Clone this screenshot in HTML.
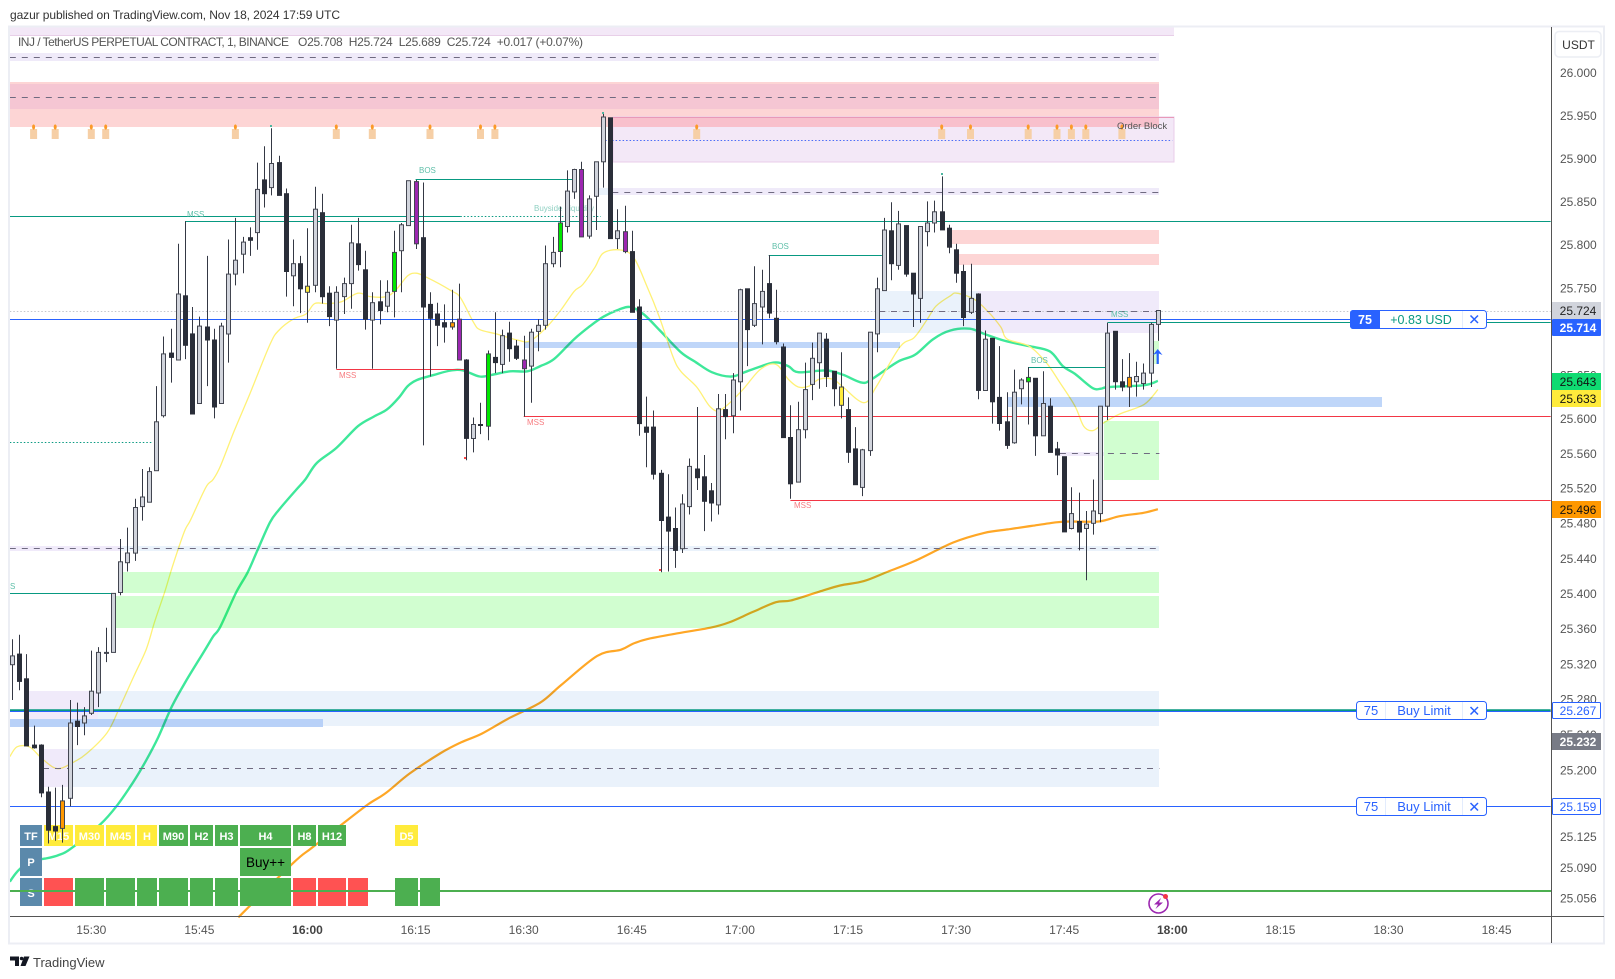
<!DOCTYPE html>
<html lang="en">
<head>
<meta charset="utf-8">
<title>INJ / TetherUS Perpetual Contract chart</title>
<style>
html,body{margin:0;padding:0;background:#fff;width:1615px;height:979px;overflow:hidden}
svg{display:block;font-family:"Liberation Sans",sans-serif}
text{font-family:"Liberation Sans",sans-serif}
</style>
</head>
<body>
<svg id="chart" xmlns="http://www.w3.org/2000/svg" width="1615" height="979" viewBox="0 0 1615 979">
  <rect x="0" y="0" width="1615" height="979" fill="#ffffff"/>
  <text x="10" y="19" font-size="12" fill="#333" textLength="330" lengthAdjust="spacing">gazur published on TradingView.com, Nov 18, 2024 17:59 UTC</text>
  <g id="ma-layer"></g>
  <g style="mix-blend-mode:multiply">
    <rect x="10" y="27" width="1164" height="9" fill="#f3e8f7"/>
    <rect x="10" y="35" width="1164" height="1" fill="#e8cfe8"/>
    <rect x="10" y="53" width="1149" height="8" fill="#efeaf9"/>
    <rect x="10" y="82" width="1149" height="45" fill="#fdd5d5"/>
    <rect x="10" y="84" width="1149" height="25" fill="#f5c6d3"/>
    <rect x="613" y="117" width="561" height="45" fill="#f3e8f7" stroke="#e9cdea" stroke-width="1"/>
    <rect x="613" y="118" width="546" height="9" fill="#f8c0cc"/>
    <rect x="598" y="188" width="14" height="7" fill="#eaf2fb"/>
    <rect x="612" y="188" width="547" height="7" fill="#efeaf9"/>
    <rect x="952" y="230" width="207" height="14" fill="#fdd5d5"/>
    <rect x="959" y="254" width="200" height="11" fill="#fdd5d5"/>
    <rect x="879" y="291" width="99" height="42" fill="#eaf2fb"/>
    <rect x="978" y="291" width="181" height="42" fill="#f0eafa"/>
    <rect x="524" y="342" width="376" height="6" fill="#bfd6f9"/>
    <rect x="1007" y="397" width="375" height="10" fill="#bfd6f9"/>
    <rect x="1153" y="341" width="6" height="23" fill="#d1fed0"/>
    <rect x="1104" y="421" width="55" height="59" fill="#d1fed0"/>
    <rect x="1060" y="452" width="44" height="4" fill="#f0eafa"/>
    <rect x="10" y="546" width="110" height="5" fill="#f0eafa"/>
    <rect x="120" y="546" width="1039" height="5" fill="#eaf2fb"/>
    <rect x="123" y="572" width="1036" height="21" fill="#d1fed0"/>
    <rect x="115" y="596" width="1044" height="32" fill="#d1fed0"/>
    <rect x="29" y="691" width="69" height="35" fill="#f0eafa"/>
    <rect x="98" y="691" width="1061" height="35" fill="#eaf2fb"/>
    <rect x="10" y="719" width="313" height="8" fill="#b8d1f8"/>
    <rect x="43" y="749" width="26" height="38" fill="#f0eafa"/>
    <rect x="69" y="749" width="1090" height="38" fill="#eaf2fb"/>
  </g>
  <line x1="613" y1="117.5" x2="1174" y2="117.5" stroke="#e899b8" stroke-width="1"/>
  <g id="level-layer"></g>
  <g id="flame-layer"></g>

  <g font-size="8">
    <text x="187" y="217" fill="#5fbfa9">MSS</text>
    <text x="419" y="173" fill="#5fbfa9">BOS</text>
    <text x="534" y="211" fill="#8fd0c2">Buyside Liquidity</text>
    <text x="772" y="249" fill="#5fbfa9">BOS</text>
    <text x="1111" y="317" fill="#5fbfa9">MSS</text>
    <text x="1031" y="363" fill="#5fbfa9">BOS</text>
    <text x="339" y="378" fill="#f77c80">MSS</text>
    <text x="527" y="425" fill="#f77c80">MSS</text>
    <text x="794" y="508" fill="#f77c80">MSS</text>
    <text x="10" y="589" fill="#5fbfa9">S</text>
    <text x="1117" y="129" font-size="9.5" fill="#555">Order Block</text>
  </g>

  <g font-size="11" font-weight="bold" text-anchor="middle" fill="#fff">
    <rect x="20" y="825" width="22" height="21" fill="#5b89ab"/>
    <text x="31" y="840">TF</text>
    <rect x="44" y="825" width="29" height="21" fill="#ffeb3b"/>
    <text x="58.5" y="840">M15</text>
    <rect x="75" y="825" width="29" height="21" fill="#ffeb3b"/>
    <text x="89.5" y="840">M30</text>
    <rect x="106" y="825" width="29" height="21" fill="#ffeb3b"/>
    <text x="120.5" y="840">M45</text>
    <rect x="137" y="825" width="20" height="21" fill="#ffeb3b"/>
    <text x="147" y="840">H</text>
    <rect x="159" y="825" width="29" height="21" fill="#4caf50"/>
    <text x="173.5" y="840">M90</text>
    <rect x="190" y="825" width="23" height="21" fill="#4caf50"/>
    <text x="201.5" y="840">H2</text>
    <rect x="215" y="825" width="23" height="21" fill="#4caf50"/>
    <text x="226.5" y="840">H3</text>
    <rect x="240" y="825" width="51" height="21" fill="#4caf50"/>
    <text x="265.5" y="840">H4</text>
    <rect x="293" y="825" width="23" height="21" fill="#4caf50"/>
    <text x="304.5" y="840">H8</text>
    <rect x="318" y="825" width="28" height="21" fill="#4caf50"/>
    <text x="332" y="840">H12</text>
    <rect x="395" y="825" width="23" height="21" fill="#ffeb3b"/>
    <text x="406.5" y="840">D5</text>
    <rect x="20" y="848" width="22" height="28" fill="#5b89ab"/>
    <text x="31" y="866">P</text>
    <rect x="240" y="848" width="51" height="28" fill="#4caf50"/>
    <text x="265.5" y="867" font-size="13.5" font-weight="normal" fill="#000">Buy++</text>
    <rect x="20" y="878" width="22" height="28" fill="#5b89ab"/>
    <text x="31" y="897">S</text>
    <rect x="44" y="878" width="29" height="28" fill="#ff5252"/>
    <rect x="75" y="878" width="29" height="28" fill="#4caf50"/>
    <rect x="106" y="878" width="29" height="28" fill="#4caf50"/>
    <rect x="137" y="878" width="20" height="28" fill="#4caf50"/>
    <rect x="159" y="878" width="29" height="28" fill="#4caf50"/>
    <rect x="190" y="878" width="23" height="28" fill="#4caf50"/>
    <rect x="215" y="878" width="23" height="28" fill="#4caf50"/>
    <rect x="240" y="878" width="51" height="28" fill="#4caf50"/>
    <rect x="293" y="878" width="23" height="28" fill="#ff5252"/>
    <rect x="318" y="878" width="28" height="28" fill="#ff5252"/>
    <rect x="348" y="878" width="20" height="28" fill="#ff5252"/>
    <rect x="395" y="878" width="23" height="28" fill="#4caf50"/>
    <rect x="420" y="878" width="20" height="28" fill="#4caf50"/>
  </g>
  <line x1="10" y1="891" x2="1551" y2="891" stroke="#4caf50" stroke-width="2"/>

  <g id="candle-layer"></g>

  <g>
    <rect x="270" y="125" width="2" height="2" fill="#4db6a0"/>
    <rect x="602" y="112" width="2" height="2" fill="#4db6a0"/>
    <rect x="941" y="173" width="2" height="2" fill="#4db6a0"/>
    <rect x="464" y="457" width="2" height="2" fill="#f44"/>
    <rect x="659" y="569" width="2" height="2" fill="#f44"/>
  </g>

  <path d="M1157.7 349 L1162.5 355 L1158.8 353.5 L1158.8 364 L1156.6 364 L1156.6 353.5 L1153 355 Z" fill="#2962ff"/>
  <g>
    <circle cx="1158.5" cy="903.5" r="9.5" fill="#fff" stroke="#9c27b0" stroke-width="1.6"/>
    <path d="M1161 898 L1154 904.5 L1158 904.5 L1155.5 909 L1163 902.5 L1159 902.5 Z" fill="#9c27b0"/>
    <circle cx="1165.5" cy="896.5" r="2.5" fill="#f23645"/>
  </g>

  <g>
    <text x="18" y="46" font-size="12" fill="#555" textLength="271" lengthAdjust="spacing">INJ / TetherUS PERPETUAL CONTRACT, 1, BINANCE</text>
    <text x="298" y="46" font-size="12" fill="#555" textLength="285" lengthAdjust="spacing" xml:space="preserve">O25.708  H25.724  L25.689  C25.724  +0.017 (+0.07%)</text>
  </g>

  <!-- frame and axes -->
  <rect x="9" y="26.5" width="1595" height="917" fill="none" stroke="#eceef4" stroke-width="2"/>
  <line x1="1551.5" y1="27" x2="1551.5" y2="943" stroke="#555" stroke-width="1"/>
  <line x1="10" y1="916.5" x2="1604" y2="916.5" stroke="#555" stroke-width="1"/>
  <rect x="1555" y="31.5" width="46" height="25.5" rx="4" fill="#fff" stroke="#eceef4" stroke-width="1.5"/>
  <text x="1578.5" y="49" font-size="12" text-anchor="middle" fill="#333">USDT</text>
  <g id="price-ticks"></g>
  <g id="time-ticks"></g>

  <g font-size="12" text-anchor="middle">
    <rect x="1552" y="302" width="49" height="17" fill="#d1d4dc"/>
    <text x="1578" y="315" fill="#222">25.724</text>
    <rect x="1552" y="319" width="49" height="17" rx="1" fill="#2962ff"/>
    <text x="1578" y="332" fill="#fff" font-weight="bold">25.714</text>
    <rect x="1552" y="373" width="49" height="17" fill="#0fdb72"/>
    <text x="1578" y="386" fill="#111">25.643</text>
    <rect x="1552" y="390" width="49" height="17" fill="#ffeb3b"/>
    <text x="1578" y="403" fill="#111">25.633</text>
    <rect x="1552" y="501" width="49" height="17" fill="#ff9800"/>
    <text x="1578" y="514" fill="#111">25.496</text>
    <rect x="1552.5" y="702.5" width="48" height="16" rx="1" fill="#fff" stroke="#2962ff"/>
    <text x="1578" y="715" fill="#2962ff">25.267</text>
    <rect x="1552" y="733" width="49" height="17" fill="#787b86"/>
    <text x="1578" y="746" fill="#fff" font-weight="bold">25.232</text>
    <rect x="1552.5" y="798.5" width="48" height="16" rx="1" fill="#fff" stroke="#2962ff"/>
    <text x="1578" y="811" fill="#2962ff">25.159</text>
  </g>

  <g font-size="12.5">
    <rect x="1350.5" y="310.5" width="136" height="18" rx="3" fill="#fff" stroke="#2962ff"/>
    <path d="M1353 310 H1380 V329 H1353 A3 3 0 0 1 1350 326 V313 A3 3 0 0 1 1353 310 Z" fill="#2962ff"/>
    <text x="1365" y="324" text-anchor="middle" font-weight="bold" fill="#fff">75</text>
    <text x="1421" y="324" text-anchor="middle" fill="#089981">+0.83 USD</text>
    <line x1="1462.5" y1="311" x2="1462.5" y2="328" stroke="#e3ecfd"/>
    <path d="M1470.5 315.5 L1478 323 M1478 315.5 L1470.5 323" stroke="#2962ff" stroke-width="1.5" fill="none"/>
  </g>
  <g font-size="13">
    <rect x="1356.5" y="701.5" width="130" height="18" rx="3" fill="#fff" stroke="#2962ff"/>
    <line x1="1385.5" y1="702" x2="1385.5" y2="719" stroke="#e3ecfd"/>
    <text x="1371" y="715" text-anchor="middle" fill="#2962ff">75</text>
    <text x="1424" y="715" text-anchor="middle" fill="#2962ff">Buy Limit</text>
    <line x1="1462.5" y1="702" x2="1462.5" y2="719" stroke="#e3ecfd"/>
    <path d="M1470.5 707 L1478 714.5 M1478 707 L1470.5 714.5" stroke="#2962ff" stroke-width="1.5" fill="none"/>
  </g>
  <g font-size="13">
    <rect x="1356.5" y="797.5" width="130" height="18" rx="3" fill="#fff" stroke="#2962ff"/>
    <line x1="1385.5" y1="798" x2="1385.5" y2="815" stroke="#e3ecfd"/>
    <text x="1371" y="811" text-anchor="middle" fill="#2962ff">75</text>
    <text x="1424" y="811" text-anchor="middle" fill="#2962ff">Buy Limit</text>
    <line x1="1462.5" y1="798" x2="1462.5" y2="815" stroke="#e3ecfd"/>
    <path d="M1470.5 803 L1478 810.5 M1478 803 L1470.5 810.5" stroke="#2962ff" stroke-width="1.5" fill="none"/>
  </g>

  <g>
    <path d="M10 956.5 H19 V966 H15 V960.5 H10 Z M24 956.5 H29.5 L25.5 966 H20.5 Z" fill="#131722"/>
    <circle cx="21.6" cy="958.5" r="1.8" fill="#131722"/>
    <text x="33" y="967" font-size="13" fill="#444">TradingView</text>
  </g>
</svg>

<script>
const opens = [
25.319,25.331,25.303,25.228,25.228,25.175,25.136,25.134,25.168,25.255,
25.253,25.264,25.287,25.332,25.333,25.401,25.435,25.446,25.499,25.504,
25.540,25.603,25.675,25.667,25.741,25.697,25.617,25.705,25.690,25.617,
25.697,25.766,25.789,25.808,25.814,25.875,25.866,25.895,25.859,25.764,
25.778,25.745,25.753,25.837,25.744,25.713,25.740,25.755,25.801,25.771,
25.713,25.734,25.729,25.746,25.793,25.822,25.873,25.808,25.731,25.720,
25.710,25.705,25.714,25.667,25.577,25.593,25.591,25.670,25.662,25.698,
25.683,25.667,25.660,25.700,25.707,25.778,25.792,25.821,25.861,25.887,
25.810,25.856,25.896,25.947,25.807,25.815,25.792,25.728,25.590,25.590,
25.537,25.487,25.474,25.451,25.499,25.542,25.533,25.517,25.501,25.610,
25.603,25.642,25.749,25.707,25.728,25.755,25.715,25.682,25.578,25.527,
25.587,25.639,25.664,25.691,25.654,25.615,25.610,25.565,25.521,25.563,
25.697,25.747,25.816,25.776,25.822,25.767,25.738,25.815,25.825,25.838,
25.819,25.794,25.769,25.722,25.743,25.632,25.692,25.624,25.596,25.572,
25.634,25.642,25.646,25.580,25.614,25.565,25.556,25.474,25.482,25.474,
25.480,25.491,25.614,25.700,25.642,25.636,25.642,25.640,25.652,25.708];
const highs = [
25.348,25.353,25.331,25.250,25.229,25.181,25.180,25.183,25.279,25.276,
25.271,25.335,25.339,25.361,25.400,25.462,25.475,25.508,25.542,25.544,
25.637,25.694,25.703,25.801,25.827,25.728,25.717,25.787,25.703,25.710,
25.806,25.831,25.809,25.820,25.895,25.914,25.935,25.903,25.865,25.806,
25.787,25.819,25.867,25.859,25.752,25.752,25.762,25.823,25.831,25.793,
25.745,25.759,25.759,25.816,25.825,25.874,25.875,25.872,25.745,25.733,
25.731,25.748,25.755,25.668,25.601,25.618,25.678,25.722,25.702,25.711,
25.690,25.695,25.703,25.714,25.799,25.809,25.844,25.886,25.888,25.896,
25.857,25.896,25.953,25.947,25.841,25.845,25.816,25.737,25.625,25.609,
25.541,25.536,25.498,25.513,25.554,25.613,25.558,25.526,25.628,25.628,
25.652,25.749,25.749,25.775,25.771,25.788,25.748,25.686,25.615,25.619,
25.664,25.687,25.698,25.698,25.654,25.676,25.624,25.590,25.565,25.699,
25.762,25.831,25.849,25.839,25.822,25.767,25.821,25.850,25.851,25.879,
25.823,25.801,25.777,25.778,25.744,25.701,25.692,25.683,25.630,25.656,
25.646,25.659,25.646,25.654,25.623,25.573,25.556,25.521,25.515,25.494,
25.530,25.614,25.710,25.700,25.668,25.675,25.665,25.663,25.710,25.724];
const lows = [
25.279,25.290,25.227,25.224,25.169,25.117,25.120,25.118,25.159,25.228,
25.239,25.262,25.271,25.322,25.333,25.398,25.425,25.437,25.483,25.504,
25.540,25.601,25.641,25.667,25.668,25.605,25.617,25.637,25.600,25.617,
25.664,25.753,25.767,25.787,25.794,25.843,25.857,25.857,25.740,25.729,
25.721,25.710,25.745,25.732,25.706,25.657,25.720,25.726,25.770,25.702,
25.657,25.708,25.722,25.716,25.745,25.822,25.795,25.569,25.648,25.683,
25.687,25.702,25.667,25.552,25.561,25.582,25.575,25.652,25.652,25.665,
25.667,25.602,25.618,25.677,25.702,25.774,25.774,25.814,25.853,25.809,
25.807,25.817,25.866,25.807,25.795,25.790,25.722,25.580,25.544,25.530,
25.424,25.425,25.429,25.446,25.490,25.518,25.471,25.482,25.490,25.576,
25.583,25.609,25.660,25.705,25.685,25.715,25.685,25.578,25.508,25.527,
25.577,25.621,25.634,25.636,25.614,25.600,25.549,25.524,25.511,25.557,
25.676,25.747,25.759,25.771,25.763,25.705,25.710,25.798,25.814,25.817,
25.790,25.756,25.706,25.720,25.622,25.632,25.594,25.586,25.565,25.571,
25.616,25.593,25.557,25.580,25.561,25.535,25.470,25.473,25.449,25.415,
25.467,25.481,25.598,25.633,25.631,25.613,25.625,25.633,25.636,25.689];
const closes = [
25.329,25.300,25.227,25.225,25.174,25.132,25.131,25.165,25.253,25.249,
25.261,25.289,25.333,25.333,25.400,25.436,25.446,25.498,25.510,25.539,
25.596,25.674,25.670,25.743,25.684,25.605,25.706,25.690,25.613,25.706,
25.766,25.782,25.803,25.805,25.864,25.859,25.894,25.857,25.769,25.778,
25.749,25.752,25.841,25.740,25.717,25.745,25.755,25.802,25.777,25.714,
25.733,25.724,25.745,25.791,25.823,25.874,25.801,25.728,25.715,25.707,
25.705,25.710,25.667,25.577,25.593,25.592,25.674,25.664,25.695,25.680,
25.669,25.657,25.699,25.707,25.778,25.791,25.825,25.862,25.887,25.809,
25.853,25.896,25.948,25.807,25.816,25.792,25.722,25.594,25.584,25.536,
25.483,25.471,25.449,25.502,25.545,25.532,25.505,25.503,25.611,25.602,
25.644,25.748,25.702,25.732,25.746,25.721,25.688,25.578,25.525,25.587,
25.633,25.669,25.698,25.648,25.634,25.636,25.561,25.524,25.564,25.699,
25.749,25.817,25.778,25.824,25.766,25.743,25.821,25.825,25.838,25.817,
25.797,25.767,25.716,25.738,25.632,25.691,25.619,25.594,25.569,25.630,
25.644,25.647,25.580,25.617,25.561,25.558,25.470,25.491,25.470,25.479,
25.494,25.614,25.698,25.642,25.636,25.647,25.648,25.652,25.708,25.724];

const highlightBars = [7,41,53,56,61,62,66,71,76,79,85,115,141,155];
const highlightFills = ['orange','yellow','lime','purple','orange','purple','lime','purple','lime','purple','purple','yellow','lime','orange'];

const yellowTimes = [-0.3,0.7,2.4,4,5.7,6.9,8.6,10.3,13.2,14.8,16.8,18.6,19.8,21.2,22.2,23.9,24.8,26.9,27.9,28.9,30.8,33,35.8,37,39,40.8,42,43.7,45.7,48,49.7,51.9,53.3,54.9,56.1,57.6,60.9,62.2,64,64.9,67.2,70.1,71.9,74.2,76.2,78,79.2,80.9,82,84.2,86.2,88.1,89.8,91.7,92.8,95,96.9,98.4,101.2,103.8,106,107.7,109.1,110.6,112,113.9,115.3,118.2,119.9,123.2,125.2,127,128.2,130.2,131.1,133.5,135.4,137.2,138.1,141.1,143.5,145.4,147.5,148.7,150,151.5,153.7,157.1,159];
const yellowValues = [25.215,25.226,25.226,25.214,25.203,25.202,25.209,25.218,25.242,25.268,25.304,25.336,25.368,25.402,25.429,25.470,25.484,25.521,25.530,25.545,25.585,25.628,25.685,25.701,25.714,25.720,25.732,25.732,25.734,25.744,25.740,25.740,25.748,25.764,25.767,25.762,25.747,25.739,25.711,25.702,25.697,25.690,25.689,25.705,25.725,25.746,25.754,25.774,25.790,25.794,25.786,25.752,25.717,25.671,25.654,25.636,25.613,25.610,25.631,25.656,25.662,25.645,25.636,25.637,25.645,25.645,25.636,25.618,25.636,25.682,25.693,25.714,25.729,25.741,25.744,25.737,25.723,25.705,25.691,25.683,25.664,25.641,25.614,25.591,25.586,25.595,25.605,25.616,25.633];

const greenTimes = [-0.3,0.7,2.4,4.6,6.5,8.3,12.2,14.6,16.8,18.5,20.3,22.2,24.1,26.8,27.9,28.9,31.1,32.7,34.1,35.8,37,39.4,40.7,42.3,45,48,50.2,52,53.7,54.9,56.2,58.6,60.9,62.6,64.9,66.6,69.1,71.5,73.3,75.2,78,80.2,82.1,84.2,85.8,87.6,89.9,92.8,94.8,97.1,99.8,102,105.7,107.7,109.1,113,115.3,117.9,119.3,122.9,125.3,127.8,130.2,132.9,134.9,137.8,141.1,144,145.8,147.5,149.9,151.1,152.2,157.1,159];
const greenValues = [25.074,25.085,25.097,25.100,25.104,25.112,25.138,25.160,25.186,25.209,25.237,25.272,25.300,25.336,25.351,25.362,25.401,25.424,25.450,25.481,25.495,25.518,25.530,25.549,25.566,25.591,25.602,25.610,25.624,25.637,25.644,25.650,25.655,25.655,25.648,25.650,25.654,25.654,25.660,25.668,25.691,25.706,25.717,25.725,25.728,25.720,25.701,25.676,25.665,25.653,25.648,25.654,25.664,25.660,25.653,25.655,25.650,25.641,25.645,25.665,25.673,25.691,25.701,25.703,25.697,25.689,25.683,25.677,25.660,25.651,25.635,25.634,25.636,25.638,25.643];

const orangeTimes = [31.4,39,41.6,45.7,49.4,51.9,55.2,59.5,62.3,65.2,69.1,73.3,76.2,81.2,84.5,86.2,88.1,91.9,96.9,99.5,102.8,106,108.1,112,114.9,118.2,121.6,125.3,130.6,134.9,138.2,141.5,144.9,146.8,150.8,153.7,157.1,159];
const orangeValues = [25.034,25.095,25.112,25.138,25.161,25.174,25.196,25.219,25.231,25.241,25.259,25.276,25.296,25.329,25.336,25.343,25.348,25.354,25.361,25.367,25.379,25.390,25.392,25.402,25.409,25.414,25.425,25.437,25.458,25.469,25.473,25.477,25.481,25.482,25.482,25.488,25.492,25.496];

const priceTicks = ['26.000','25.950','25.900','25.850','25.800','25.750','25.650','25.600','25.560','25.520','25.480','25.440','25.400','25.360','25.320','25.280','25.240','25.200','25.125','25.090','25.056'];
const timeTicks = ['15:30','15:45','16:00','16:15','16:30','16:45','17:00','17:15','17:30','17:45','18:00','18:15','18:30','18:45'];

const levelNames = ['mss-line-top','mss-line-top-dotted','resistance-line','bos-line-1','bos-line-2','bos-line-3','last-price-line','position-line-blue','position-line-green','liquidity-dotted-line','mss-red-line-1','mss-red-line-2','mss-red-line-3','s-line-left','buy-limit-line-teal','buy-limit-line-blue','buy-limit-line-2','dash-top','dash-pink','dash-order-block','dash-purple-mid','dash-box','dash-green','dash-strip','dash-lower'];
const levelPrices = [25.833,25.833,25.827,25.876,25.788,25.659,25.724,25.714,25.711,25.573,25.657,25.603,25.507,25.401,25.268,25.266,25.159,26.018,25.971,25.921,25.861,25.723,25.560,25.452,25.202];
const levelFrom = [-0.3,62.2,24,56,105,141,-0.3,-0.3,152,-0.3,45,71,108,-0.3,-0.3,-0.3,-0.3,-0.3,-0.3,82.3,83.3,120.3,145.4,-0.3,4.3];
const levelTo = [62.2,81.7,213.5,77.8,120.7,152,213.5,213.5,213.5,19.6,62.7,213.5,213.5,14.3,213.5,213.5,213.5,159.2,159.2,161,159.2,159.2,159.2,159.2,159.2];
const levelKinds = ['teal','tealDot','teal','teal','teal','teal','greyDot','blue','teal','tealDot','red','red','red','teal','tealThick','blueMid','blue','dash','dash','blueDot','dash','dash','dash','dash','dash'];

const flameBars = [3,6,11,13,31,45,50,58,65,67,95,129,133,141,145,147,149,154];

/* axis functions */
const FIRST_MINUTE = 15*60+19;
function xAt(t){ return 12 + 7.207*t; }
function yAt(p){ return 72.3 + 22320*Math.log(26/p); }
function minuteToBar(label){ const a = label.split(':'); return (+a[0])*60 + (+a[1]) - FIRST_MINUTE; }

const NS = 'http://www.w3.org/2000/svg';
function make(tag, attrs, parent){
  const el = document.createElementNS(NS, tag);
  for (const k in attrs) el.setAttribute(k, attrs[k]);
  parent.appendChild(el);
  return el;
}
const fillMap = {orange:'#ff9800',yellow:'#ffeb3b',lime:'#00e600',purple:'#9c27b0'};
const kindStyle = {
  teal:{stroke:'#089981',w:1},
  tealDot:{stroke:'#089981',w:1,dash:'1.5 2'},
  greyDot:{stroke:'#c4c6cc',w:1,dash:'1.5 2'},
  blue:{stroke:'#2962ff',w:1},
  blueMid:{stroke:'#2962ff',w:1},
  red:{stroke:'#f23645',w:1},
  tealThick:{stroke:'#089981',w:2.5},
  dash:{stroke:'#6f6a80',w:1,dash:'6 6'},
  blueDot:{stroke:'#4a6cf7',w:1,dash:'1.5 2'}
};

/* moving averages: curve passes through every read value */
const maLayer = document.getElementById('ma-layer');
function drawLine(times, values, color, width, name){
  const pts = times.map(function(t,i){ return [xAt(t), yAt(values[i])]; });
  let d = 'M' + pts[0][0].toFixed(1) + ' ' + pts[0][1].toFixed(1) + ' ';
  for (let i=0;i<pts.length-1;i++){
    const p0 = pts[Math.max(i-1,0)], p1 = pts[i], p2 = pts[i+1], p3 = pts[Math.min(i+2,pts.length-1)];
    d += 'C' + (p1[0]+(p2[0]-p0[0])/6).toFixed(1) + ' ' + (p1[1]+(p2[1]-p0[1])/6).toFixed(1) + ' '
       + (p2[0]-(p3[0]-p1[0])/6).toFixed(1) + ' ' + (p2[1]-(p3[1]-p1[1])/6).toFixed(1) + ' '
       + p2[0].toFixed(1) + ' ' + p2[1].toFixed(1) + ' ';
  }
  const path = make('path',{d:d,fill:'none',stroke:color,'stroke-width':width,'stroke-linejoin':'round'},maLayer);
  
  
}
drawLine(orangeTimes, orangeValues, '#ffa726', 2.2, 'orange-moving-average');
drawLine(greenTimes, greenValues, '#3ee89a', 2.4, 'green-moving-average');
drawLine(yellowTimes, yellowValues, '#fff176', 1.3, 'yellow-moving-average');

/* levels */
const levelLayer = document.getElementById('level-layer');
for (let i=0;i<levelPrices.length;i++){
  const s = kindStyle[levelKinds[i]];
  const yy = Math.round(yAt(levelPrices[i])) + 0.5;
  const ln = make('line',{x1:xAt(levelFrom[i]).toFixed(1),x2:xAt(levelTo[i]).toFixed(1),y1:yy,y2:yy,stroke:s.stroke,'stroke-width':s.w},levelLayer);
  if (s.dash) ln.setAttribute('stroke-dasharray', s.dash);
  
  
}

/* candle emoji row */
const flameLayer = document.getElementById('flame-layer');
flameBars.forEach(function(b){
  const cx = xAt(b);
  const g = make('g',{},flameLayer);
  
  
  const body = make('rect',{x:(cx-3.5).toFixed(1),y:129,width:7,height:10,fill:'#f6cfa6'},g);
  
  
  const flame = make('ellipse',{cx:cx.toFixed(1),cy:127,rx:1.5,ry:2.6,fill:'#fb9a28'},g);
  
  
});

/* candles */
const candleLayer = document.getElementById('candle-layer');
for (let i=0;i<opens.length;i++){
  const cx = Math.round(xAt(i)) + 0.5;
  const up = closes[i] >= opens[i];
  const top = yAt(Math.max(opens[i],closes[i]));
  const bot = yAt(Math.min(opens[i],closes[i]));
  const h = highlightBars.indexOf(i);
  const fill = h >= 0 ? fillMap[highlightFills[h]] : (up ? '#d1d4dc' : '#2a2e39');
  const stroke = up || h >= 0 ? '#434651' : '#2a2e39';
  const g = make('g',{},candleLayer);
  
  
  const wick = make('line',{x1:cx,x2:cx,y1:yAt(highs[i]).toFixed(1),y2:yAt(lows[i]).toFixed(1),stroke:'#343844','stroke-width':1},g);
  
  
  const body = make('rect',{x:cx-2,y:top.toFixed(1),width:4,height:Math.max(bot-top,1).toFixed(1),fill:fill,stroke:stroke,'stroke-width':1},g);
  
  
}

/* axis labels */
const priceLayer = document.getElementById('price-ticks');
priceTicks.forEach(function(label){
  const t = make('text',{x:1560,y:(yAt(parseFloat(label))+4.5).toFixed(1),'font-size':12,fill:'#555'},priceLayer);
  t.textContent = label;
  
  
});
const timeLayer = document.getElementById('time-ticks');
timeTicks.forEach(function(label){
  const major = label === '16:00' || label === '18:00';
  const t = make('text',{x:xAt(minuteToBar(label)).toFixed(1),y:934,'font-size':12,'text-anchor':'middle',fill:major?'#444':'#555','font-weight':major?'bold':'normal'},timeLayer);
  t.textContent = label;
  
  
});
</script>
</body>
</html>
